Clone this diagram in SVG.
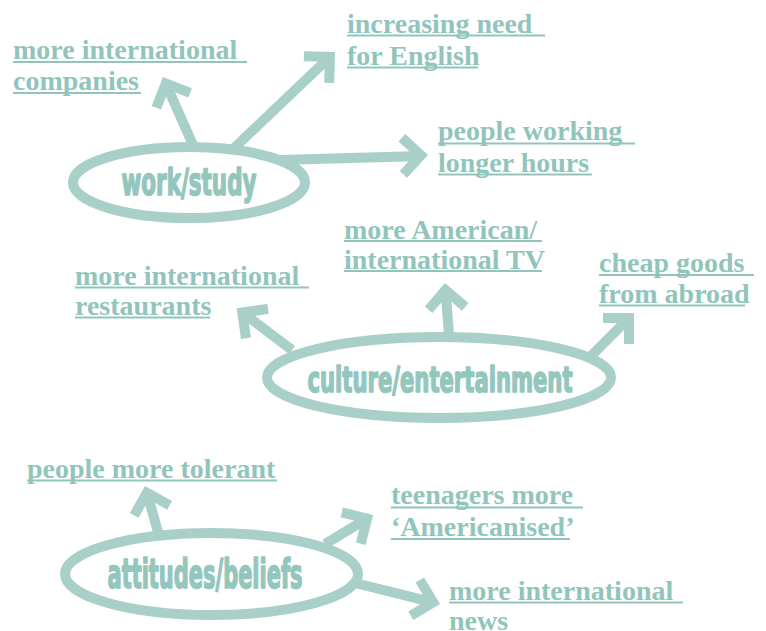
<svg xmlns="http://www.w3.org/2000/svg" width="766" height="631" viewBox="0 0 766 631">
<style>
.ell{fill:none;stroke:#a8cfc8;stroke-width:10}
.hub{font-family:"DejaVu Sans Condensed","DejaVu Sans",sans-serif;font-weight:bold;font-stretch:condensed;fill:#93c6bd;stroke:#93c6bd;stroke-width:1.6;stroke-linejoin:round}
.lbl{font-family:"Liberation Serif","Times New Roman",serif;font-weight:bold;font-size:28px;fill:#91c5bb}
.ul{stroke:#91c5bb;stroke-width:2}
.con line,.con polyline{fill:none;stroke:#a8cfc8;stroke-width:10;stroke-linejoin:miter;stroke-miterlimit:10}
</style>
<rect width="766" height="631" fill="#ffffff"/>
<g id="connectors" class="con">
<line x1="193" y1="145" x2="165.8" y2="83.4"/>
<polyline points="156.4,107.7 165.8,83.4 190.1,92.8"/>
<line x1="232" y1="150" x2="329.9" y2="56.8"/>
<polyline points="303.9,56.2 329.9,56.8 329.2,82.8"/>
<line x1="280" y1="160" x2="421" y2="156"/>
<polyline points="401.9,137.7 421,155.3 403.4,174.4"/>
<line x1="292" y1="350" x2="242.3" y2="312.5"/>
<polyline points="245.9,338.2 242.3,312.5 268,308.9"/>
<line x1="449" y1="335" x2="445.5" y2="290"/>
<polyline points="428.6,309.7 445.5,290 465.2,306.9"/>
<line x1="591" y1="356" x2="629" y2="318"/>
<polyline points="603,318 629,318 629,344"/>
<line x1="158" y1="532" x2="146.9" y2="492.7"/>
<polyline points="134.2,515.4 146.9,492.7 169.6,505.4"/>
<line x1="325" y1="544" x2="367" y2="518.6"/>
<polyline points="341.8,512.4 367,518.6 360.8,543.8"/>
<line x1="355" y1="583" x2="433.2" y2="602.3"/>
<polyline points="419.8,580 433.2,602.3 410.9,615.7"/>
</g>
<g id="node-work">
<ellipse class="ell" cx="189" cy="182.5" rx="116" ry="35.5"/>
<text class="hub" x="121.5" y="194.5" font-size="38" textLength="135" lengthAdjust="spacingAndGlyphs">work/study</text>
</g>
<g id="node-culture">
<ellipse class="ell" cx="439" cy="377.5" rx="172" ry="40.5"/>
<text class="hub" x="307.5" y="392" font-size="36" textLength="265" lengthAdjust="spacingAndGlyphs">culture/entertainment</text>
</g>
<g id="node-attitudes">
<ellipse class="ell" cx="211.5" cy="574" rx="146.5" ry="41"/>
<text class="hub" x="107.5" y="587.5" font-size="40" textLength="195" lengthAdjust="spacingAndGlyphs">attitudes/beliefs</text>
</g>
<g id="label-companies">
<text class="lbl" x="13" y="59">more international</text>
<line class="ul" x1="13" y1="62" x2="247" y2="62"/>
<text class="lbl" x="13" y="90">companies</text>
<line class="ul" x1="13" y1="93" x2="141" y2="93"/>
</g>
<g id="label-english">
<text class="lbl" x="347" y="33">increasing need</text>
<line class="ul" x1="347" y1="35.5" x2="545" y2="35.5"/>
<text class="lbl" x="347" y="64.5">for English</text>
<line class="ul" x1="347" y1="67.5" x2="478" y2="67.5"/>
</g>
<g id="label-hours">
<text class="lbl" x="438" y="140">people working</text>
<line class="ul" x1="438" y1="143.5" x2="635" y2="143.5"/>
<text class="lbl" x="438" y="171.5">longer hours</text>
<line class="ul" x1="438" y1="174.5" x2="592" y2="174.5"/>
</g>
<g id="label-tv">
<text class="lbl" x="344" y="238.5">more American/</text>
<line class="ul" x1="344" y1="241" x2="542" y2="241"/>
<text class="lbl" x="344" y="268.5">international TV</text>
<line class="ul" x1="344" y1="271" x2="542" y2="271"/>
</g>
<g id="label-restaurants">
<text class="lbl" x="75" y="284.5">more international</text>
<line class="ul" x1="75" y1="287.5" x2="309" y2="287.5"/>
<text class="lbl" x="75" y="314.5">restaurants</text>
<line class="ul" x1="75" y1="317.5" x2="210" y2="317.5"/>
</g>
<g id="label-goods">
<text class="lbl" x="599" y="272">cheap goods</text>
<line class="ul" x1="599" y1="275" x2="754" y2="275"/>
<text class="lbl" x="599" y="302.5">from abroad</text>
<line class="ul" x1="599" y1="305.5" x2="745" y2="305.5"/>
</g>
<g id="label-tolerant">
<text class="lbl" x="27" y="477.5">people more tolerant</text>
<line class="ul" x1="27" y1="480.5" x2="277" y2="480.5"/>
</g>
<g id="label-teenagers">
<text class="lbl" x="391" y="504">teenagers more</text>
<line class="ul" x1="391" y1="507.5" x2="583" y2="507.5"/>
<text class="lbl" x="391" y="536">‘Americanised’</text>
<line class="ul" x1="391" y1="539" x2="570" y2="539"/>
</g>
<g id="label-news">
<text class="lbl" x="449" y="599.5">more international</text>
<line class="ul" x1="449" y1="602.5" x2="683" y2="602.5"/>
<text class="lbl" x="449" y="630">news</text>
</g>
</svg>
